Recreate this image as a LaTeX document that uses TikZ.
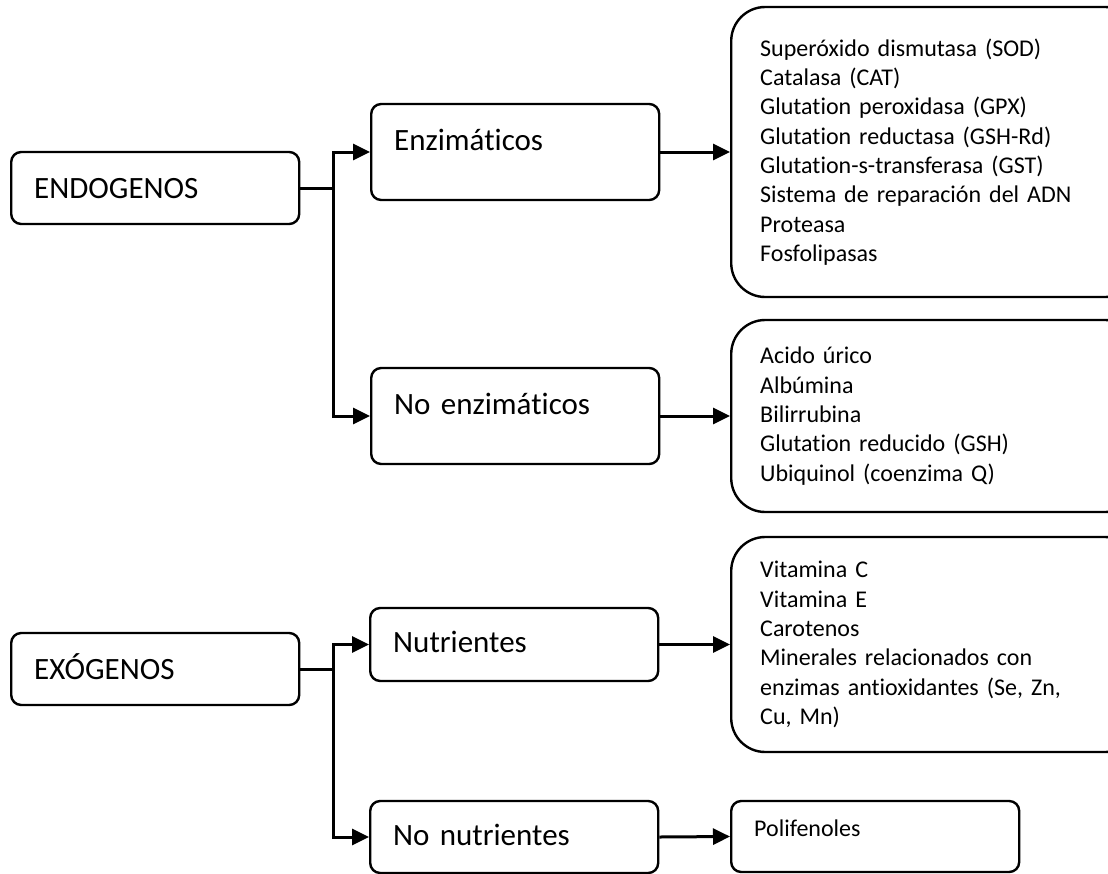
\documentclass[tikz,border=0pt]{standalone}
\usepackage{fontspec}
\setmainfont{Carlito}[Ligatures=NoCommon]
\newfontfamily\listfont{Carlito}[Ligatures=NoCommon, WordSpace=0.75]
\usetikzlibrary{arrows.meta}
\tikzset{
>={Triangle[length=17pt,width=16pt]}, % filled arrow heads
link/.style={->, line width=3pt}, % connectors between boxes
mainbox/.style={draw, line width=2.4pt, rounded corners=10pt, anchor=west, inner ysep=0pt, inner xsep=23pt, text width=242pt, align=left, text height=46pt, font=\fontsize{31}{37}\selectfont}, % first and second level
itembox/.style={draw, line width=2.4pt, rounded corners=34pt, anchor=west, inner xsep=29pt, text width=350pt, align=left, font=\listfont\fontsize{24}{29.3}\selectfont}, % lists on the right
}
\begin{document}
\begin{tikzpicture}[x=1pt, y=-1pt]
  \useasboundingbox (0,0) rectangle (1108,873);
  % endogenos
  \node[mainbox, text depth=26pt] (endo) at (10,188) {ENDOGENOS};
  \node[mainbox, text depth=50pt] (enz) at (370,152) {Enzimáticos};
  \node[mainbox, text depth=50pt] (noenz) at (370,416) {No enzimáticos};
  \node[itembox, minimum height=290pt] (enzlist) at (730,152) {Superóxido dismutasa (SOD)\\Catalasa (CAT)\\Glutation peroxidasa (GPX)\\Glutation reductasa (GSH-Rd)\\Glutation-s-transferasa (GST)\\Sistema de reparación del ADN\\Proteasa\\Fosfolipasas};
  \node[itembox, minimum height=192pt] (noenzlist) at (730,416) {Acido úrico\\Albúmina\\Bilirrubina\\Glutation reducido (GSH)\\Ubiquinol (coenzima Q)};
  % exogenos
  \node[mainbox, text depth=26pt] (exo) at (10,669) {EXÓGENOS};
  \node[mainbox, text height=44pt, text depth=29pt] (nutr) at (369,644.5) {Nutrientes};
  \node[mainbox, text height=44pt, text depth=28pt] (nonutr) at (369,837) {No nutrientes};
  \node[itembox, minimum height=215pt] (nutrlist) at (730,644.5) {Vitamina C\\Vitamina E\\Carotenos\\Minerales relacionados con\\enzimas antioxidantes (Se, Zn,\\Cu, Mn)};
  \node[itembox, rounded corners=10pt, inner ysep=0pt, inner xsep=23pt, text width=242pt, text height=35pt, text depth=36pt] (polif) at (730,836.5) {Polifenoles};
  % connectors
  \coordinate (endosplit) at (333,188);
  \coordinate (exosplit) at (333,669);
  \draw[line width=3pt] (endo.east) -- (endosplit);
  \draw[link] (endosplit) |- (enz.west);
  \draw[link] (endosplit) |- (noenz.west);
  \draw[link] (enz.east) -- (enzlist.west);
  \draw[link] (noenz.east) -- (noenzlist.west);
  \draw[line width=3pt] (exo.east) -- (exosplit);
  \draw[link] (exosplit) |- (nutr.west);
  \draw[link] (exosplit) |- (nonutr.west);
  \draw[link] (nutr.east) -- (nutrlist.west);
  \draw[link] (nonutr.east) -- (polif.west);
\end{tikzpicture}
\end{document}
